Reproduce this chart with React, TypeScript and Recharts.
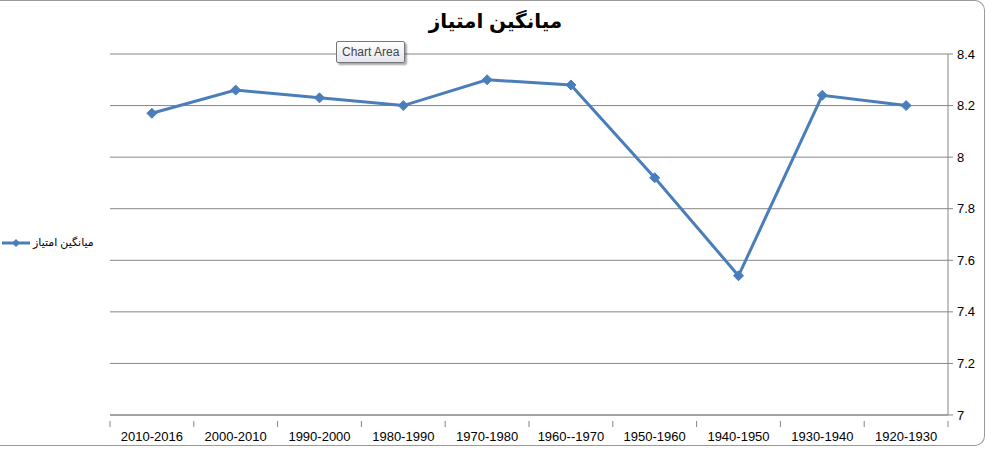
import React from "react";
import { LineChart, Line, XAxis, YAxis, CartesianGrid, Legend } from "recharts";

const periods = [
  "2010-2016",
  "2000-2010",
  "1990-2000",
  "1980-1990",
  "1970-1980",
  "1960--1970",
  "1950-1960",
  "1940-1950",
  "1930-1940",
  "1920-1930",
];
const scores = [8.17, 8.26, 8.23, 8.2, 8.3, 8.28, 7.92, 7.54, 8.24, 8.2];
const yTicks = [7, 7.2, 7.4, 7.6, 7.8, 8, 8.2, 8.4];
const seriesName = "میانگین امتیاز";

const data = periods.map((p, i) => ({ period: p, score: scores[i] }));

const BLUE = "#4a7ebb";
const GRID = "#868686";
const FONT = "'Liberation Sans', Arial, 'DejaVu Sans', sans-serif";
const BAND = (948 - 110) / periods.length;

function Diamond(props: any) {
  const { cx, cy, index } = props;
  if (cx == null || cy == null) return null;
  const r = 5;
  return (
    <polygon
      key={index}
      points={`${cx},${cy - r} ${cx + r},${cy} ${cx},${cy + r} ${cx - r},${cy}`}
      fill={BLUE}
      stroke={BLUE}
      strokeWidth={1}
    />
  );
}

function PeriodTick(props: any) {
  const { x, y, payload, index } = props;
  const left = x - BAND / 2;
  return (
    <g>
      <line x1={left} y1={y - 2} x2={left} y2={y + 4} stroke={GRID} />
      {index === periods.length - 1 && (
        <line x1={x + BAND / 2} y1={y - 2} x2={x + BAND / 2} y2={y + 4} stroke={GRID} />
      )}
      <text x={x} y={y + 18} textAnchor="middle" fontSize={13} fill="#000" fontFamily={FONT}>
        {payload.value}
      </text>
    </g>
  );
}

function LegendBox() {
  return (
    <div style={{ display: "flex", alignItems: "center", fontFamily: FONT, fontSize: 11, color: "#000" }}>
      <svg width={30} height={12}>
        <line x1={1} y1={6} x2={29} y2={6} stroke={BLUE} strokeWidth={3} />
        <polygon points="15,2 19,6 15,10 11,6" fill={BLUE} />
      </svg>
      <span style={{ marginLeft: 2 }}>{seriesName}</span>
    </div>
  );
}

export default function App() {
  return (
    <div style={{ position: "absolute", left: 0, top: 0, width: 991, height: 451, background: "#fff", overflow: "hidden" }}>
      <div
        style={{
          position: "absolute",
          left: -10,
          top: 0,
          width: 995,
          height: 446,
          borderTop: "1px solid #9a9a9a",
          borderRight: "1px solid #9a9a9a",
          borderBottom: "1px solid #9a9a9a",
          borderRadius: "0 10px 10px 0",
          boxSizing: "border-box",
        }}
      />
      <div
        style={{
          position: "absolute",
          left: 0,
          top: 9,
          width: 991,
          textAlign: "center",
          fontFamily: FONT,
          fontWeight: "bold",
          fontSize: 20,
          color: "#000",
        }}
      >
        {seriesName}
      </div>
      <div style={{ position: "absolute", left: 0, top: 0 }}>
        <LineChart width={991} height={451} data={data} margin={{ top: 54, right: 8, left: 110, bottom: 0 }}>
          <CartesianGrid vertical={false} stroke={GRID} strokeWidth={1} />
          <XAxis
            dataKey="period"
            scale="band"
            tick={<PeriodTick />}
            tickLine={false}
            axisLine={{ stroke: GRID }}
            interval={0}
            height={36}
          />
          <YAxis
            orientation="right"
            domain={[7, 8.4]}
            ticks={yTicks}
            tickFormatter={(v: number) => String(Number(v.toFixed(1)))}
            tick={{ fontSize: 13, fill: "#000", fontFamily: FONT, textAnchor: "start" }}
            tickLine={{ stroke: GRID }}
            tickSize={5}
            tickMargin={4}
            axisLine={{ stroke: GRID }}
            width={35}
          />
          <Legend
            align="center"
            verticalAlign="middle"
            content={() => <LegendBox />}
            wrapperStyle={{ left: 1, top: 236, width: 100 }}
          />
          <Line
            type="linear"
            dataKey="score"
            name={seriesName}
            stroke={BLUE}
            strokeWidth={3}
            dot={<Diamond />}
            activeDot={false}
            isAnimationActive={false}
          />
        </LineChart>
      </div>
      <div
        style={{
          position: "absolute",
          left: 336,
          top: 41,
          height: 20,
          padding: "0 5px",
          lineHeight: "20px",
          fontFamily: FONT,
          fontSize: 12,
          color: "#444",
          border: "1px solid #767676",
          borderRadius: 2,
          background: "linear-gradient(#ffffff, #e4e5f0)",
          boxShadow: "2px 2px 2px rgba(0,0,0,0.35)",
        }}
      >
        Chart Area
      </div>
    </div>
  );
}
